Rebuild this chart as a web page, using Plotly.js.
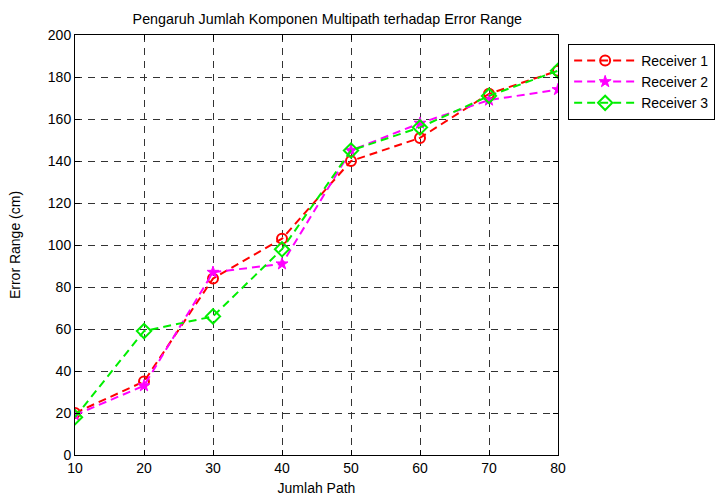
<!DOCTYPE html>
<html>
<head>
<meta charset="utf-8">
<script src="https://cdn.plot.ly/plotly-3.0.1.min.js"></script>
<style>html,body{margin:0;padding:0;background:#fff;}#chart{width:721px;height:497px;}</style>
</head>
<body>
<div id="chart"></div>
<script>
const paths = [10, 20, 30, 40, 50, 60, 70, 80];
const receiver1 = [20, 35, 84, 103, 140, 151, 172, 183];
const receiver2 = [19, 33, 87, 91, 145, 158, 169, 174];
const receiver3 = [18, 59, 66, 98, 145, 156, 171, 183];
const seriesNames = ['Receiver 1', 'Receiver 2', 'Receiver 3'];
const xTicks = [10, 20, 30, 40, 50, 60, 70, 80];
const yTicks = [0, 20, 40, 60, 80, 100, 120, 140, 160, 180, 200];

const font = 'Liberation Sans, Arial, sans-serif';
const dashPat = '8px,5px';
const traces = [
  {x: paths, y: receiver1, name: seriesNames[0], mode: 'lines+markers',
   line: {color: '#ff0000', dash: dashPat, width: 2},
   marker: {symbol: 'circle-open', size: 10, color: '#ff0000', line: {width: 2, color: '#ff0000'}}},
  {x: paths, y: receiver2, name: seriesNames[1], mode: 'lines+markers',
   line: {color: '#ff00ff', dash: dashPat, width: 2},
   marker: {symbol: 'star', size: 9, color: '#ff00ff', line: {width: 1, color: '#ff00ff'}}},
  {x: paths, y: receiver3, name: seriesNames[2], mode: 'lines+markers',
   line: {color: '#00ee00', dash: dashPat, width: 2},
   marker: {symbol: 'diamond-open', size: 11, color: '#00ee00', line: {width: 2, color: '#00ee00'}}}
];

const axisCommon = {
  showline: true, linecolor: '#000', linewidth: 1, mirror: 'ticks',
  ticks: 'inside', ticklen: 5, tickcolor: '#000',
  showgrid: true, gridcolor: '#333', griddash: '7px,6px', gridwidth: 1,
  zeroline: false, tickfont: {family: font, size: 14, color: '#000'}
};

const layout = {
  width: 721, height: 497,
  margin: {l: 75, r: 163, t: 35, b: 42, autoexpand: false},
  paper_bgcolor: '#fff', plot_bgcolor: '#fff',
  title: {text: 'Pengaruh Jumlah Komponen Multipath terhadap Error Range',
          font: {family: font, size: 14.3, color: '#000'}, x: 0.454, xanchor: 'center', y: 0.962, yanchor: 'middle'},
  xaxis: Object.assign({}, axisCommon, {range: [10, 80], tickvals: xTicks, automargin: false,
    title: {text: 'Jumlah Path', font: {family: font, size: 14, color: '#000'}, standoff: 8}}),
  yaxis: Object.assign({}, axisCommon, {range: [0, 200], tickvals: yTicks, automargin: false,
    title: {text: 'Error Range (cm)', font: {family: font, size: 14, color: '#000'}, standoff: 23}}),
  legend: {x: 1.021, y: 0.979, xanchor: 'left', yanchor: 'top', itemwidth: 62,
    bordercolor: '#000', borderwidth: 1, bgcolor: '#fff',
    font: {family: font, size: 14, color: '#000'}, tracegroupgap: 0},
  showlegend: true
};

Plotly.newPlot('chart', traces, layout, {displayModeBar: false, staticPlot: true});
</script>
</body>
</html>
